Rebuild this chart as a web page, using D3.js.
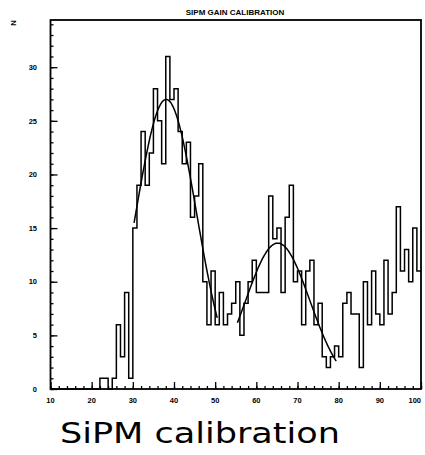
<!DOCTYPE html>
<html>
<head>
<meta charset="utf-8">
<script src="https://cdn.jsdelivr.net/npm/d3@7"></script>
<style>
  html, body { margin: 0; padding: 0; background: #fff; }
  svg { display: block; }
</style>
</head>
<body>
<svg id="chart" width="425" height="455"></svg>
<script>
// Histogram: one-unit bins from 10 to 100, counts per bin (bin lower edge = 10 + i)
const binStart = 10;
const binWidth = 1;
const counts = [
  0, 0, 0, 0, 0, 0, 0, 0, 0, 0,        // 10-19
  0, 0, 1, 1, 0, 1, 6, 3, 9, 1,        // 20-29
  15, 19, 24, 19, 22, 28, 25, 21, 31, 27, // 30-39
  28, 24, 21, 23, 16, 18, 21, 10, 6, 11,  // 40-49
  6, 9, 6, 7, 8, 10, 5, 8, 10, 12,     // 50-59
  9, 9, 9, 18, 14, 15, 9, 16, 19, 10,  // 60-69
  11, 6, 11, 12, 6, 8, 3, 2, 3, 4,     // 70-79
  3, 8, 9, 7, 7, 2, 10, 6, 11, 7,      // 80-89
  6, 12, 7, 9, 17, 11, 13, 10, 15, 11  // 90-99
];

// Gaussian fits to the two photo-electron peaks
const fitAmp   = [27.0, 13.6];
const fitMean  = [38.1, 65.2];
const fitSigma = [7.4, 7.8];
const fitFrom  = [30.3, 55.4];
const fitTo    = [50.5, 79.4];

// Axis ticks
const xMajorTicks = [10, 20, 30, 40, 50, 60, 70, 80, 90, 100];
const yMajorTicks = [0, 5, 10, 15, 20, 25, 30];

const title = "SIPM GAIN CALIBRATION";
const yLabel = "N";
const caption = "SiPM calibration";

const svg = d3.select("#chart");
const plotLeft = 50.5, plotRight = 421, plotTop = 20, plotBottom = 389;

const x = d3.scaleLinear().domain([10, 100]).range([plotLeft, plotRight]);
const y = d3.scaleLinear().domain([0, 34.4]).range([plotBottom, plotTop]);

const tickFont = "bold 7.5px 'Liberation Sans', Arial, sans-serif";

// Histogram outline
const steps = counts.map((c, i) => [binStart + i * binWidth, c]);
steps.push([binStart + counts.length * binWidth, counts[counts.length - 1]]);
const stepLine = d3.line()
  .x(d => x(d[0]))
  .y(d => y(d[1]))
  .curve(d3.curveStepAfter);
svg.append("path")
  .attr("d", stepLine(steps))
  .attr("fill", "none")
  .attr("stroke", "#000")
  .attr("stroke-width", 1.5);

// Fit curves
fitAmp.forEach((a, k) => {
  const pts = d3.range(fitFrom[k], fitTo[k] + 0.001, 0.2).map(v =>
    [v, a * Math.exp(-((v - fitMean[k]) ** 2) / (2 * fitSigma[k] ** 2))]);
  svg.append("path")
    .attr("d", d3.line().x(d => x(d[0])).y(d => y(d[1])).curve(d3.curveBasis)(pts))
    .attr("fill", "none")
    .attr("stroke", "#000")
    .attr("stroke-width", 1.5);
});

// Inward ticks on left and bottom axes
const ax = svg.append("g");
const yAxis = d3.axisRight(y).tickValues(yMajorTicks).tickSize(7).tickFormat("");
const yMinor = d3.axisRight(y).tickValues(d3.range(0, 35, 1)).tickSize(3).tickFormat("");
ax.append("g").attr("transform", `translate(${plotLeft},0)`).call(yMinor);
ax.append("g").attr("transform", `translate(${plotLeft},0)`).call(yAxis);
const xAxis = d3.axisTop(x).tickValues(xMajorTicks).tickSize(7).tickFormat("");
const xMinor = d3.axisTop(x).tickValues(d3.range(10, 101, 2)).tickSize(3).tickFormat("");
ax.append("g").attr("transform", `translate(0,${plotBottom})`).call(xMinor);
ax.append("g").attr("transform", `translate(0,${plotBottom})`).call(xAxis);
ax.selectAll(".domain").remove();
ax.selectAll("line").attr("stroke", "#000").attr("stroke-width", 1.3);

// Frame
svg.append("rect")
  .attr("x", plotLeft).attr("y", plotTop)
  .attr("width", plotRight - plotLeft).attr("height", plotBottom - plotTop)
  .attr("fill", "none").attr("stroke", "#000").attr("stroke-width", 1.8);

// Tick labels
svg.append("g").selectAll("text").data(yMajorTicks).join("text")
  .attr("x", 37).attr("y", d => y(d) + 2.7)
  .attr("text-anchor", "end")
  .style("font", tickFont)
  .text(d => d);
svg.append("g").selectAll("text").data(xMajorTicks).join("text")
  .attr("x", d => Math.min(x(d), 424))
  .attr("y", 403)
  .attr("text-anchor", d => x(d) + 6 > 425 ? "end" : "middle")
  .style("font", tickFont)
  .text(d => d);

// Title and axis label
svg.append("text")
  .attr("x", 235).attr("y", 15)
  .attr("text-anchor", "middle")
  .style("font", "bold 8px 'Liberation Sans', Arial, sans-serif")
  .text(title);
svg.append("text")
  .attr("transform", "translate(16,23) rotate(-90)")
  .attr("text-anchor", "middle")
  .style("font", tickFont)
  .text(yLabel);

// Caption
svg.append("text")
  .attr("x", 60).attr("y", 443)
  .attr("textLength", 280)
  .attr("lengthAdjust", "spacingAndGlyphs")
  .style("font", "29px 'Comic Sans MS', 'DejaVu Sans', sans-serif")
  .text(caption);
</script>
</body>
</html>
